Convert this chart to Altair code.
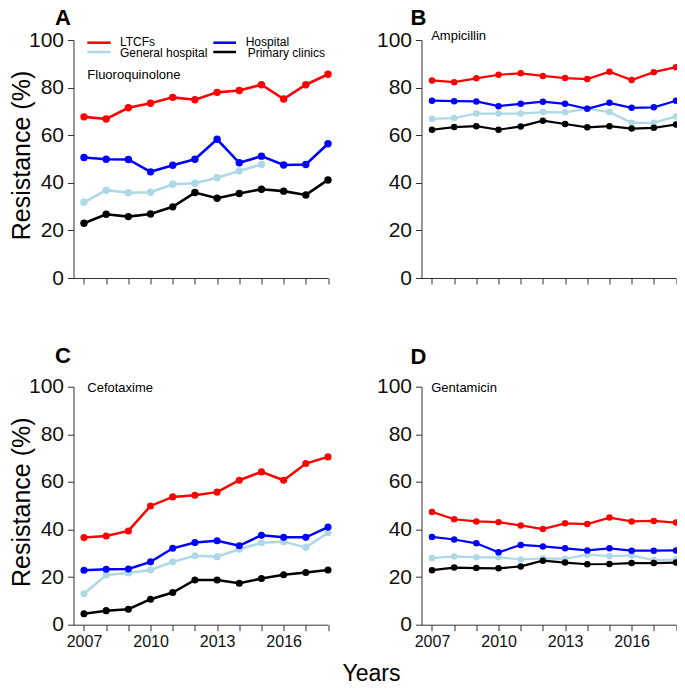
import altair as alt
import pandas as pd

FONT = "Liberation Sans"

YEARS = [2007, 2008, 2009, 2010, 2011, 2012, 2013, 2014, 2015, 2016, 2017, 2018]
LABEL_YEARS = [2007, 2010, 2013, 2016]
Y_TICKS = [0, 20, 40, 60, 80, 100]

SERIES = ["LTCFs", "Hospital", "General hospital", "Primary clinics"]
COLORS = {
    "LTCFs": "#FF0000",
    "Hospital": "#0000FF",
    "General hospital": "#ADD8E6",
    "Primary clinics": "#000000",
}
DRAW_ORDER = ["General hospital", "LTCFs", "Hospital", "Primary clinics"]

# Panel A - Fluoroquinolone
FLUORO_LTCF = [67.7, 66.8, 71.5, 73.4, 75.9, 74.9, 78.0, 78.8, 81.2, 75.2, 81.2, 85.6]
FLUORO_HOSP = [50.6, 49.9, 49.8, 44.6, 47.4, 49.9, 58.3, 48.4, 51.2, 47.5, 47.7, 56.4]
FLUORO_GEN = [31.8, 36.9, 35.8, 36.0, 39.4, 39.8, 42.1, 45.0, 47.7, None, None, None]
FLUORO_PRIM = [23.0, 26.8, 25.8, 26.9, 29.9, 35.9, 33.5, 35.5, 37.3, 36.5, 34.9, 41.2]

# Panel B - Ampicillin
AMP_LTCF = [83.0, 82.3, 83.9, 85.4, 86.0, 84.9, 84.0, 83.6, 86.7, 83.2, 86.5, 88.6]
AMP_HOSP = [74.5, 74.3, 74.2, 72.2, 73.2, 74.1, 73.2, 71.1, 73.6, 71.5, 71.7, 74.5]
AMP_GEN = [66.9, 67.2, 69.1, 69.1, 69.1, 69.7, 69.6, 71.2, 69.7, 65.2, 65.2, 67.9]
AMP_PRIM = [62.3, 63.4, 63.8, 62.3, 63.7, 66.1, 64.7, 63.3, 63.8, 62.8, 63.1, 64.5]

# Panel C - Cefotaxime
CEF_LTCF = [36.6, 37.3, 39.4, 49.9, 53.7, 54.4, 55.7, 60.7, 64.2, 60.7, 67.7, 70.5]
CEF_HOSP = [22.9, 23.3, 23.4, 26.4, 32.1, 34.5, 35.3, 33.2, 37.6, 36.7, 36.7, 41.0]
CEF_GEN = [13.0, 20.9, 21.7, 23.0, 26.4, 29.0, 28.6, 31.7, 34.4, 34.9, 32.5, 38.6]
CEF_PRIM = [4.6, 5.9, 6.5, 10.7, 13.5, 18.8, 18.8, 17.4, 19.4, 21.0, 21.9, 23.0]

# Panel D - Gentamicin
GEN_LTCF = [47.4, 44.3, 43.4, 43.1, 41.7, 40.2, 42.6, 42.3, 45.0, 43.4, 43.6, 42.9]
GEN_HOSP = [36.9, 35.8, 34.2, 30.4, 33.5, 32.9, 32.1, 31.2, 32.1, 31.1, 31.1, 31.2]
GEN_GEN = [28.0, 28.7, 28.3, 28.3, 27.4, 27.9, 27.7, 29.4, 28.8, 29.1, 27.1, 27.4]
GEN_PRIM = [22.9, 24.0, 23.8, 23.7, 24.5, 26.9, 26.1, 25.4, 25.5, 25.9, 25.9, 26.1]

W, H = 254.5, 238
XMIN = 2006.527


def text_layer(text, x, y, size, weight="normal", align="left",
               baseline="alphabetic", angle=0):
    return alt.Chart(pd.DataFrame({"t": [text]})).mark_text(
        align=align, baseline=baseline, fontSize=size, fontWeight=weight,
        font=FONT, angle=angle, color="black",
    ).encode(x=alt.value(x), y=alt.value(y), text="t:N")


def legend_rule(color, x1, x2, y):
    return alt.Chart(pd.DataFrame({"k": [0]})).mark_rule(
        color=color, strokeWidth=2.5
    ).encode(x=alt.value(x1), x2=alt.value(x2), y=alt.value(y))


def panel(letter, drug, values, xlabels, lw, msize, letter_xy, drug_xy,
          ytitle=False, xtitle=False, legend=False):
    rows = []
    for s in SERIES:
        for yr, v in zip(YEARS, values[s]):
            if v is not None:
                rows.append({"year": yr, "value": v, "series": s})
    df = pd.DataFrame(rows)

    x = alt.X(
        "year:Q",
        scale=alt.Scale(domain=[XMIN, 2018], nice=False, zero=False),
        axis=alt.Axis(
            values=YEARS, format="d", labels=xlabels,
            labelExpr="(datum.value - 2007) % 3 == 0 ? datum.label : ''",
            labelFontSize=16, labelFont=FONT, labelColor="#111",
            labelPadding=3, tickSize=6, tickColor="#333", domainColor="#333",
            grid=False, title=None, labelFlush=False, labelOverlap=False,
        ),
    )
    y = alt.Y(
        "value:Q",
        scale=alt.Scale(domain=[0, 100], nice=False),
        axis=alt.Axis(
            values=Y_TICKS, labelFontSize=21, labelFont=FONT, labelColor="#111",
            labelPadding=4, tickSize=6, tickColor="#333", domainColor="#333",
            grid=False, title=None,
        ),
    )

    layers = []
    base = alt.Chart(df)
    for s in DRAW_ORDER:
        sub = base.transform_filter(alt.datum.series == s)
        layers.append(sub.mark_line(color=COLORS[s], strokeWidth=lw).encode(x=x, y=y))
        layers.append(sub.mark_circle(color=COLORS[s], size=msize, opacity=1).encode(x=x, y=y))

    layers.append(text_layer(letter, letter_xy[0], letter_xy[1], 22, weight="bold"))
    layers.append(text_layer(drug, drug_xy[0], drug_xy[1], 13))

    if ytitle:
        layers.append(text_layer("Resistance (%)", -52, 115.5, 25,
                                 align="center", baseline="middle", angle=270))
    if xtitle:
        layers.append(text_layer("Years", 298, H + 49.5, 23,
                                 align="center", baseline="middle"))
    if legend:
        layers.append(legend_rule(COLORS["LTCFs"], 13.8, 37.2, 2.7))
        layers.append(text_layer("LTCFs", 46.5, 6.2, 12))
        layers.append(legend_rule(COLORS["Hospital"], 139.8, 162.5, 2.7))
        layers.append(text_layer("Hospital", 172.2, 6.2, 12))
        layers.append(legend_rule(COLORS["General hospital"], 13.8, 37.2, 12))
        layers.append(text_layer("General hospital", 46.5, 16.7, 12))
        layers.append(legend_rule(COLORS["Primary clinics"], 139.8, 162.5, 12))
        layers.append(text_layer("Primary clinics", 174.2, 16.7, 12))

    return alt.layer(*layers).properties(width=W, height=H)


pA = panel("A", "Fluoroquinolone",
           {"LTCFs": FLUORO_LTCF, "Hospital": FLUORO_HOSP,
            "General hospital": FLUORO_GEN, "Primary clinics": FLUORO_PRIM},
           xlabels=False, lw=2.6, msize=55, letter_xy=(-18.5, -15),
           drug_xy=(13.8, 39.3), ytitle=True, legend=True)
pB = panel("B", "Ampicillin",
           {"LTCFs": AMP_LTCF, "Hospital": AMP_HOSP,
            "General hospital": AMP_GEN, "Primary clinics": AMP_PRIM},
           xlabels=False, lw=2.2, msize=42, letter_xy=(-11, -15),
           drug_xy=(9.7, 0))
pC = panel("C", "Cefotaxime",
           {"LTCFs": CEF_LTCF, "Hospital": CEF_HOSP,
            "General hospital": CEF_GEN, "Primary clinics": CEF_PRIM},
           xlabels=True, lw=2.5, msize=50, letter_xy=(-18.5, -23.4),
           drug_xy=(13.8, 5), ytitle=True, xtitle=True)
pD = panel("D", "Gentamicin",
           {"LTCFs": GEN_LTCF, "Hospital": GEN_HOSP,
            "General hospital": GEN_GEN, "Primary clinics": GEN_PRIM},
           xlabels=True, lw=2.2, msize=42, letter_xy=(-11, -22.7),
           drug_xy=(9.7, 5))

chart = alt.concat(
    pA, pB, pC, pD, columns=2,
    spacing={"row": 108.7, "column": 93}, bounds="flush",
).properties(
    autosize=alt.AutoSizeParams(type="none"),
    padding={"left": 65.5, "top": 32, "right": 603.5, "bottom": 643},
).configure_view(stroke=None)

chart.save("out.html", embed_options={"renderer": "svg", "actions": False})
